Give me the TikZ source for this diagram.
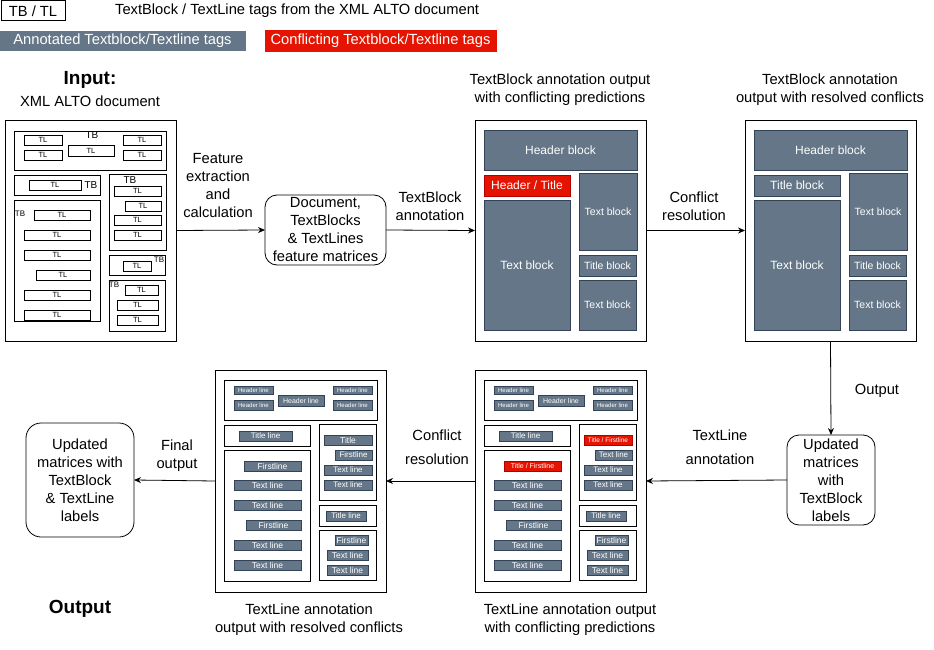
\documentclass[tikz,border=0pt]{standalone}
\usepackage{fontspec}
\setmainfont{Liberation Sans}
\usetikzlibrary{arrows.meta}
\definecolor{slate}{HTML}{647687}
\definecolor{slated}{HTML}{314354}
\definecolor{redc}{HTML}{E51400}
\definecolor{redd}{HTML}{B20000}
\newcommand\bx[7]{\node[#1, anchor=north west, minimum width={(#5-#3)*1pt}, minimum height={(#6-#4)*1pt}] (#2) at (#3,#4) {#7};}
\tikzset{
 lbl/.style={font=\fontsize{14.7}{18}\selectfont, align=center, inner sep=0},
 lblfont/.style={font=\fontsize{14.7}{18}\selectfont},
 doc/.style={draw, line width=0.9pt, inner sep=0, outer sep=0},
 tbx/.style={draw, line width=0.8pt, inner sep=0, outer sep=0},
 tlx/.style={draw, line width=0.7pt, inner sep=0, outer sep=0, font=\fontsize{7.5}{8}\selectfont},
 tbl/.style={inner sep=0, font=\fontsize{10}{11}\selectfont},
 tbs/.style={inner sep=0, font=\fontsize{8}{9}\selectfont},
 gb/.style={fill=slate, draw=slated, text=white, inner sep=0, outer sep=0, line width=0.6pt},
 rb/.style={fill=redc, draw=redd, text=white, inner sep=0, outer sep=0, line width=0.6pt},
 arr/.style={-{Stealth[length=7pt,width=6pt]}, line width=0.8pt},
 rbox/.style={draw, rounded corners=12pt, line width=0.8pt, inner sep=0, outer sep=0, align=center, font=\fontsize{14.7}{18}\selectfont},
 f12/.style={font=\fontsize{12}{13}\selectfont},
 f105/.style={font=\fontsize{10.5}{12}\selectfont},
 f85/.style={font=\fontsize{8.5}{9}\selectfont},
 f8/.style={font=\fontsize{8}{9}\selectfont},
 f7/.style={font=\fontsize{7}{8}\selectfont},
 f65/.style={font=\fontsize{6.5}{7}\selectfont},
 f6/.style={font=\fontsize{6}{7}\selectfont},
}
\newcommand\TBdoc[4]{%
\begin{scope}[xshift=#2]
\bx{doc}{#1}{475}{120}{646}{341}{}
\bx{gb,f12}{#1h}{484}{130}{637}{170}{Header block}
\bx{#3,f12}{#1t}{484}{175}{570}{196}{#4}
\bx{gb,f12}{#1l}{484}{200}{570}{330}{Text block}
\bx{gb,f105}{#1r1}{579}{173}{637}{250}{Text block}
\bx{gb,f105}{#1r2}{579}{255}{636}{276}{Title block}
\bx{gb,f105}{#1r3}{579}{280}{636}{330}{Text block}
\end{scope}}
\newcommand\TLdoc[7]{%
\begin{scope}[xshift=#2]
\bx{doc}{#1}{475}{370}{646}{592}{}
\bx{tbx}{#1a}{484}{380}{637}{420}{}
\bx{gb,f6}{#1a1}{494}{386}{533}{394}{Header line}
\bx{gb,f6}{#1a2}{494}{400}{533}{410}{Header line}
\bx{gb,f7}{#1a3}{538}{395}{584}{406}{Header line}
\bx{gb,f6}{#1a4}{593}{386}{632}{394}{Header line}
\bx{gb,f6}{#1a5}{593}{400}{632}{410}{Header line}
\bx{tbx}{#1b}{484}{425}{570}{446}{}
\bx{gb,f8}{#1b1}{499}{431}{552}{441}{Title line}
\bx{tbx}{#1c}{484}{450}{570}{581}{}
\bx{#3}{#1c1}{504}{461}{561}{471}{#4}
\bx{gb,f85}{#1c2}{494}{480}{561}{490}{Text line}
\bx{gb,f85}{#1c3}{494}{500}{561}{510}{Text line}
\bx{gb,f85}{#1c4}{506}{520}{561}{530}{Firstline}
\bx{gb,f85}{#1c5}{494}{540}{561}{550}{Text line}
\bx{gb,f85}{#1c6}{494}{560}{561}{570}{Text line}
\bx{tbx}{#1d}{579}{424}{636}{500}{}
\bx{#5}{#1d1}{584}{435}{632}{445}{#6}
\bx{gb,f8}{#1d2}{595}{450}{632}{460}{#7}
\bx{gb,f8}{#1d3}{584}{465}{632}{475}{Text line}
\bx{gb,f8}{#1d4}{584}{480}{632}{490}{Text line}
\bx{tbx}{#1e}{579}{505}{636}{526}{}
\bx{gb,f8}{#1e1}{586}{511}{626}{521}{Title line}
\bx{tbx}{#1f}{579}{530}{636}{580}{}
\bx{gb,f85}{#1f1}{595}{535}{628}{545}{Firstline}
\bx{gb,f85}{#1f2}{587}{550}{628}{560}{Text line}
\bx{gb,f85}{#1f3}{587}{565}{628}{575}{Text line}
\end{scope}}
\begin{document}
\begin{tikzpicture}[x=1pt,y=-1pt]
\useasboundingbox (0,0) rectangle (934,650);
% legend
\bx{tbx,lblfont,line width=1pt}{lg1}{1}{1}{65}{21}{TB / TL}
\node[lbl, anchor=west] (lg1t) at (115,11) {TextBlock / TextLine tags from the XML ALTO document};
\bx{gb,lblfont,draw=slate}{lg2}{0}{31}{245}{50}{Annotated Textblock/Textline tags}
\bx{rb,lblfont,draw=redc}{lg3}{265}{30}{496}{51}{Conflicting Textblock/Textline tags}
% titles
\node[lbl, font=\fontsize{19}{22}\selectfont\bfseries] (inT) at (90,80) {Input:};
\node[lbl] (inS) at (90,101) {XML ALTO document};
\node[lbl] (t2) at (560,90) {TextBlock annotation output\\with conflicting predictions};
\node[lbl] (t3) at (830,90) {TextBlock annotation\\output with resolved conflicts};
\node[lbl] (t4) at (570,620) {TextLine annotation output\\with conflicting predictions};
\node[lbl] (t5) at (309,620) {TextLine annotation\\output with resolved conflicts};
\node[lbl, font=\fontsize{19}{22}\selectfont\bfseries] (outT) at (80,609) {Output};
% input document
\bx{doc}{inp}{5}{120}{176}{341}{}
\bx{tbx}{i1}{14}{131}{166}{170}{}
\bx{tlx}{i1a}{24}{135}{62}{145}{TL}
\bx{tlx}{i1b}{24}{150}{62}{160}{TL}
\bx{tlx}{i1c}{68}{145}{114}{156}{TL}
\bx{tlx}{i1d}{123}{135}{161}{145}{TL}
\bx{tlx}{i1e}{123}{150}{161}{160}{TL}
\node[tbl] (i1t) at (92,135) {TB};
\bx{tbx}{i2}{14}{175}{100}{195}{}
\bx{tlx}{i2a}{29}{180}{81}{190}{TL}
\node[tbl] (i2t) at (91,185) {TB};
\bx{tbx}{i3}{14}{200}{100}{321}{}
\node[tbs] (i3t) at (20,214) {TB};
\bx{tlx}{i3a}{34}{210}{90}{220}{TL}
\bx{tlx}{i3b}{24}{230}{90}{240}{TL}
\bx{tlx}{i3c}{24}{250}{90}{260}{TL}
\bx{tlx}{i3d}{36}{270}{90}{280}{TL}
\bx{tlx}{i3e}{24}{290}{90}{300}{TL}
\bx{tlx}{i3f}{24}{310}{90}{320}{TL}
\bx{tbx}{i4}{109}{174}{166}{250}{}
\node[tbl] (i4t) at (130,180) {TB};
\bx{tlx}{i4a}{114}{186}{161}{196}{TL}
\bx{tlx}{i4b}{125}{201}{161}{211}{TL}
\bx{tlx}{i4c}{114}{215}{161}{225}{TL}
\bx{tlx}{i4d}{114}{230}{161}{240}{TL}
\bx{tbx}{i5}{109}{255}{165}{275}{}
\bx{tlx}{i5a}{123}{261}{151}{271}{TL}
\node[tbs] (i5t) at (159,260) {TB};
\bx{tbx}{i6}{109}{280}{165}{331}{}
\node[tbs] (i6t) at (114,285) {TB};
\bx{tlx}{i6a}{125}{285}{158}{295}{TL}
\bx{tlx}{i6b}{117}{300}{158}{310}{TL}
\bx{tlx}{i6c}{117}{315}{158}{325}{TL}
% feature box
\bx{rbox}{feat}{265}{195}{386}{265}{Document,\\TextBlocks\\\& TextLines\\feature matrices}
% TB docs
\TBdoc{b}{0}{rb}{Header / Title}
\TBdoc{c}{270}{gb}{Title block}
% updated box
\bx{rbox}{upd}{787}{435}{875}{525}{Updated\\matrices\\with\\TextBlock\\labels}
% TL docs
\TLdoc{d}{0}{rb,f7}{Title / Firstline}{rb,f65}{Title / Firstline}{Text line}
\TLdoc{e}{-260}{gb,f85}{Firstline}{gb,f85}{Title}{Firstline}
% final box
\bx{rbox,rounded corners=15pt}{fin}{26}{423}{134}{537}{Updated\\matrices with\\TextBlock\\\& TextLine\\labels}
% connectors
\draw[arr] (inp.east) -- (feat.west);
\draw[arr] (feat.east) -- (b.west);
\draw[arr] (b.east) -- (c.west);
\draw[arr] (c.south) -- (upd.north);
\draw[arr] (upd.west) -- (d.east);
\draw[arr] (d.west) -- (e.east);
\draw[arr] (e.west) -- (fin.east);
% connector labels
\node[lbl] (l1) at (218,186) {Feature\\extraction\\and\\calculation};
\node[lbl] (l2) at (430,206) {TextBlock\\annotation};
\node[lbl] (l3) at (694,206) {Conflict\\resolution};
\node[lbl] (l4) at (877,391) {Output};
\node[lbl, font=\fontsize{14.7}{24}\selectfont] (l5) at (720,447) {TextLine\\annotation};
\node[lbl, font=\fontsize{14.7}{24}\selectfont] (l6) at (437,447) {Conflict\\resolution};
\node[lbl] (l7) at (177,456) {Final\\output};
\end{tikzpicture}
\end{document}
